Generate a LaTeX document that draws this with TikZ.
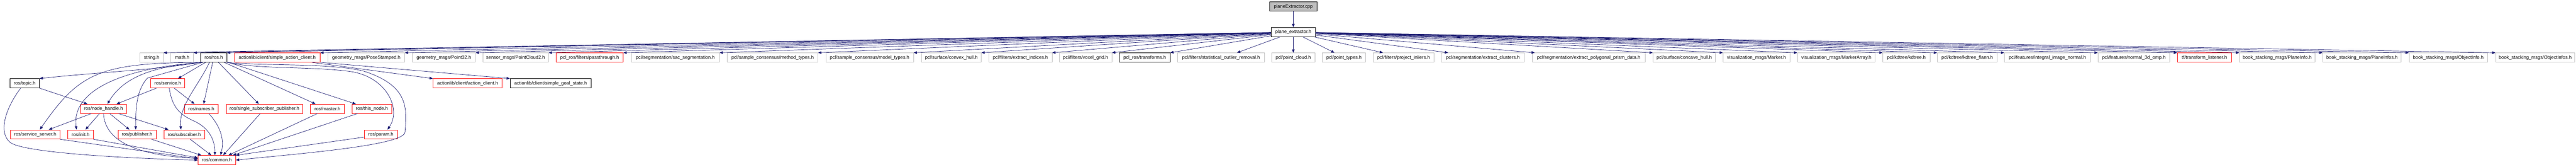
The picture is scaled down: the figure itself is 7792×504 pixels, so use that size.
\documentclass[tikz,border=0pt]{standalone}
\usepackage{fontspec}
\setmainfont{Liberation Sans}
\usetikzlibrary{arrows.meta}

\definecolor{edgeblue}{HTML}{191970}
\definecolor{extgray}{HTML}{BFBFBF}
\definecolor{truncred}{HTML}{FF0000}

\tikzset{
  filebox/.style={draw=black, line width=1.1pt, minimum height=28pt, inner sep=0pt,
    font=\fontsize{14.2}{16}\selectfont, text=black},
  extbox/.style={filebox, draw=extgray},
  redbox/.style={filebox, draw=truncred},
  topbox/.style={filebox, fill=extgray},
  dep/.style={draw=edgeblue, line width=1.1pt, -{Triangle[length=10pt,width=8pt]}}
}

\begin{document}
\begin{tikzpicture}[x=1pt,y=-1pt]
\useasboundingbox (0,0) rectangle (7792,504);

% source file and its header
\node[topbox, minimum width=142pt] (cpp) at (3912,20) {planeExtractor.cpp};
\node[filebox, minimum width=134pt] (hdr) at (3912,97) {plane\_extractor.h};

% direct includes of the header
\node[extbox, minimum width=71pt] (string) at (458.5,174) {string.h};
\node[extbox, minimum width=68pt] (math) at (551,174) {math.h};
\node[filebox, minimum width=79pt] (rosros) at (646.5,174) {ros/ros.h};
\node[redbox, minimum width=259pt] (sac) at (838.5,174) {actionlib/client/simple\_action\_client.h};
\node[extbox, minimum width=232pt] (posest) at (1108,174) {geometry\_msgs/PoseStamped.h};
\node[extbox, minimum width=191pt] (pt32) at (1342.5,174) {geometry\_msgs/Point32.h};
\node[extbox, minimum width=199pt] (pc2) at (1559.5,174) {sensor\_msgs/PointCloud2.h};
\node[redbox, minimum width=203pt] (passth) at (1783.5,174) {pcl\_ros/filters/passthrough.h};
\node[extbox, minimum width=267pt] (sacseg) at (2042.5,174) {pcl/segmentation/sac\_segmentation.h};
\node[extbox, minimum width=274pt] (methty) at (2337,174) {pcl/sample\_consensus/method\_types.h};
\node[extbox, minimum width=265pt] (modelty) at (2630.5,174) {pcl/sample\_consensus/model\_types.h};
\node[extbox, minimum width=181pt] (convex) at (2877.5,174) {pcl/surface/convex\_hull.h};
\node[extbox, minimum width=191pt] (extidx) at (3086.5,174) {pcl/filters/extract\_indices.h};
\node[extbox, minimum width=159pt] (voxel) at (3283.5,174) {pcl/filters/voxel\_grid.h};
\node[filebox, minimum width=153pt] (transf) at (3462.5,174) {pcl\_ros/transforms.h};
\node[extbox, minimum width=263pt] (stat) at (3693.5,174) {pcl/filters/statistical\_outlier\_removal.h};
\node[extbox, minimum width=130pt] (ptcloud) at (3912,174) {pcl/point\_cloud.h};
\node[extbox, minimum width=131pt] (pttypes) at (4065.5,174) {pcl/point\_types.h};
\node[extbox, minimum width=183pt] (projinl) at (4245.5,174) {pcl/filters/project\_inliers.h};
\node[extbox, minimum width=251pt] (extclus) at (4485.5,174) {pcl/segmentation/extract\_clusters.h};
\node[extbox, minimum width=341pt] (prism) at (4805.5,174) {pcl/segmentation/extract\_polygonal\_prism\_data.h};
\node[extbox, minimum width=189pt] (concave) at (5094.5,174) {pcl/surface/concave\_hull.h};
\node[extbox, minimum width=202pt] (marker) at (5313,174) {visualization\_msgs/Marker.h};
\node[extbox, minimum width=235pt] (markarr) at (5554.5,174) {visualization\_msgs/MarkerArray.h};
\node[extbox, minimum width=143pt] (kdtree) at (5766.5,174) {pcl/kdtree/kdtree.h};
\node[extbox, minimum width=181pt] (kdflann) at (5950.5,174) {pcl/kdtree/kdtree\_flann.h};
\node[extbox, minimum width=260pt] (intimg) at (6193,174) {pcl/features/integral\_image\_normal.h};
\node[extbox, minimum width=217pt] (nomp) at (6454.5,174) {pcl/features/normal\_3d\_omp.h};
\node[redbox, minimum width=164pt] (tflist) at (6668,174) {tf/transform\_listener.h};
\node[extbox, minimum width=228pt] (planei) at (6888,174) {book\_stacking\_msgs/PlaneInfo.h};
\node[extbox, minimum width=237pt] (planeis) at (7144.5,174) {book\_stacking\_msgs/PlaneInfos.h};
\node[extbox, minimum width=237pt] (obji) at (7405.5,174) {book\_stacking\_msgs/ObjectInfo.h};
\node[extbox, minimum width=239pt] (objis) at (7668.5,174) {book\_stacking\_msgs/ObjectInfos.h};

% ros and actionlib headers
\node[filebox, minimum width=89pt] (topic) at (74.5,252) {ros/topic.h};
\node[redbox, minimum width=103pt] (service) at (507.5,252) {ros/service.h};
\node[redbox, minimum width=209pt] (actcl) at (1414.5,252) {actionlib/client/action\_client.h};
\node[filebox, minimum width=245pt] (sgs) at (1665.5,252) {actionlib/client/simple\_goal\_state.h};

\node[redbox, minimum width=140pt] (nodeh) at (313,329) {ros/node\_handle.h};
\node[redbox, minimum width=102pt] (names) at (609,329) {ros/names.h};
\node[redbox, minimum width=232pt] (ssp) at (800,329) {ros/single\_subscriber\_publisher.h};
\node[redbox, minimum width=103pt] (master) at (990.5,329) {ros/master.h};
\node[redbox, minimum width=120pt] (thisn) at (1125,329) {ros/this\_node.h};

\node[redbox, minimum width=149pt] (srvsrv) at (106.5,406.5) {ros/service\_server.h};
\node[redbox, minimum width=77pt] (init) at (243.5,406.5) {ros/init.h};
\node[redbox, minimum width=115pt] (pub) at (414.5,406.5) {ros/publisher.h};
\node[redbox, minimum width=123pt] (sub) at (557.5,406.5) {ros/subscriber.h};
\node[redbox, minimum width=100pt] (param) at (1152,406.5) {ros/param.h};

\node[redbox, minimum width=114pt] (common) at (656,484) {ros/common.h};

% header includes
\draw[dep] (cpp) -- (hdr);
\draw[dep] (hdr) -- (string.north east);
\draw[dep] (hdr) -- (math.north east);
\draw[dep] (hdr) -- (rosros.north east);
\draw[dep] (hdr) -- (sac.north east);
\draw[dep] (hdr) -- (posest.north east);
\draw[dep] (hdr) -- (pt32.north east);
\draw[dep] (hdr) -- (pc2.north east);
\draw[dep] (hdr) -- (passth.north east);
\draw[dep] (hdr) -- (sacseg.north east);
\draw[dep] (hdr) -- (methty.north east);
\draw[dep] (hdr) -- (modelty.north east);
\draw[dep] (hdr) -- (convex.north east);
\draw[dep] (hdr) -- (extidx.north east);
\draw[dep] (hdr) -- (voxel.north east);
\draw[dep] (hdr) -- (transf.north east);
\draw[dep] (hdr) -- ([xshift=48pt]stat.north);
\draw[dep] (hdr) -- (ptcloud);
\draw[dep] (hdr) -- ([xshift=37pt]pttypes.north west);
\draw[dep] (hdr) -- ([xshift=30pt]projinl.north west);
\draw[dep] (hdr) -- ([xshift=21pt]extclus.north west);
\draw[dep] (hdr) -- ([xshift=8pt]prism.north west);
\draw[dep] (hdr) -- (concave.north west);
\draw[dep] (hdr) -- (marker.north west);
\draw[dep] (hdr) -- (markarr.north west);
\draw[dep] (hdr) -- (kdtree.north west);
\draw[dep] (hdr) -- (kdflann.north west);
\draw[dep] (hdr) -- (intimg.north west);
\draw[dep] (hdr) -- (nomp.north west);
\draw[dep] (hdr) -- (tflist.north west);
\draw[dep] (hdr) -- (planei.north west);
\draw[dep] (hdr) -- (planeis.north west);
\draw[dep] (hdr) -- (obji.north west);
\draw[dep] (hdr) -- (objis.north west);

% ros/ros.h includes
\draw[dep] (rosros.south west) .. controls (470,212) and (300,218) .. (topic.north east);
\draw[dep] ([xshift=2pt]rosros.south west) .. controls (300,190) and (240,220) .. ([xshift=14pt]srvsrv.north);
\draw[dep] ([xshift=3pt]rosros.south west) .. controls (380,205) and (215,270) .. ([xshift=-12pt]init.north);
\draw[dep] ([xshift=5pt]rosros.south west) .. controls (470,200) and (375,230) .. ([xshift=12pt]nodeh.north);
\draw[dep] ([xshift=7pt]rosros.south west) -- (446,236) .. controls (415,270) and (410,320) .. ([xshift=-4pt]pub.north);
\draw[dep] (rosros) -- ([xshift=31pt]service.north);
\draw[dep] ([xshift=27pt]rosros.south west) .. controls (600,260) and (540,320) .. ([xshift=-10pt]sub.north);
\draw[dep] (rosros) -- ([xshift=7pt]names.north);
\draw[dep] (rosros) -- ([xshift=-17pt]ssp.north);
\draw[dep] (rosros) -- ([xshift=16pt]master.north west);
\draw[dep] (rosros) -- ([xshift=12pt]thisn.north west);
\draw[dep] (rosros.south east) .. controls (780,210) and (950,200) .. (1065,217)
  .. controls (1170,235) and (1215,330) .. ([xshift=20pt]param.north);
\draw[dep] (rosros.south east) .. controls (800,200) and (1000,190) .. (1100,215)
  .. controls (1240,260) and (1230,330) .. (1225,400)
  .. controls (1220,440) and (900,465) .. (common.east);

% actionlib
\draw[dep] ([xshift=105pt]sac.south) -- (actcl.north west);
\draw[dep] (sac.south east) -- (sgs.north west);

% lower ros headers
\draw[dep] (topic.south east) -- ([xshift=22pt]nodeh.north west);
\draw[dep] ([xshift=-12pt]topic.south) .. controls (15,330) and (-5,400) .. (30,430)
  .. controls (65,460) and (350,478) .. (common.west);
\draw[dep] ([xshift=-34.5pt]service.south) -- ([xshift=-31pt]nodeh.north east);
\draw[dep] ([xshift=19.5pt]service.south) -- ([xshift=31pt]names.north west);
\draw[dep] ([xshift=4.5pt]service.south) .. controls (520,320) and (540,345) .. (585,365)
  .. controls (630,385) and (650,420) .. ([xshift=-6pt]common.north);
\draw[dep] ([xshift=-37pt]nodeh.south) -- ([xshift=-34pt]srvsrv.north east);
\draw[dep] ([xshift=-12pt]nodeh.south) -- ([xshift=15pt]init.north);
\draw[dep] (nodeh.south) .. controls (318,430) and (420,470) .. ([yshift=5pt]common.west);
\draw[dep] ([xshift=19pt]nodeh.south) -- ([xshift=35pt]pub.north west);
\draw[dep] ([xshift=46pt]nodeh.south) -- ([xshift=14pt]sub.north west);
\draw[dep] ([xshift=23pt]names.south) .. controls (665,380) and (680,420) .. ([xshift=11pt]common.north);
\draw[dep] ([xshift=-13pt]ssp.south) -- ([xshift=19pt]common.north);
\draw[dep] ([xshift=-31pt]master.south) -- ([xshift=35pt]common.north);
\draw[dep] ([xshift=-44pt]thisn.south) -- ([xshift=48pt]common.north);
\draw[dep] ([yshift=-8pt]param.west) -- (common.north east);
\draw[dep] (srvsrv.south east) -- ([yshift=4pt]common.west);
\draw[dep] (init.south east) -- ([yshift=7pt]common.west);
\draw[dep] ([xshift=44pt]pub.south) -- ([xshift=-47pt]common.north);
\draw[dep] ([xshift=18pt]sub.south) -- ([xshift=-17pt]common.north);
\end{tikzpicture}
\end{document}
